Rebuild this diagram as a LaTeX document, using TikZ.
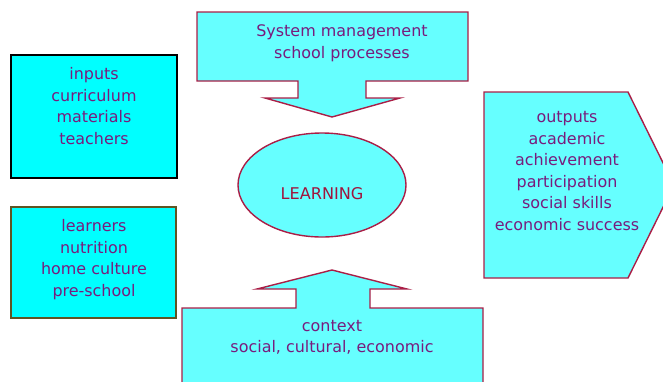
\documentclass[tikz,border=0pt]{standalone}
\usepackage{fontspec}
\setmainfont{DejaVu Sans}
\usetikzlibrary{shapes.geometric}
\definecolor{lcyan}{RGB}{102,255,255}
\definecolor{fcyan}{RGB}{0,255,255}
\definecolor{maroonb}{RGB}{170,30,70}
\definecolor{olivb}{RGB}{95,85,35}
\definecolor{txtpurple}{RGB}{120,28,125}
\definecolor{learnred}{RGB}{160,20,60}
\tikzset{
  shapeline/.style={draw=maroonb, line width=1.4bp, fill=lcyan, line join=miter},
  boxtext/.style={text=txtpurple, align=center, font=\fontsize{16}{21.7}\selectfont, inner sep=0pt},
}
\begin{document}
\begin{tikzpicture}[x=1bp,y=-1bp]
\useasboundingbox (0,0) rectangle (663,381);
\clip (0,0) rectangle (663,381);
% top callout
\draw[shapeline] (197,12) -- (468,12) -- (468,81) -- (366,81) -- (366,98) -- (400,98) -- (332,117) -- (265,98) -- (298,98) -- (298,81) -- (197,81) -- cycle;
\node[boxtext] (sys) at (342,43) {System management\\school processes};
% left boxes
\draw[draw=black, line width=1.4bp, fill=fcyan] (11,55) rectangle (177,178);
\node[boxtext] (inputs) at (94,106) {inputs\\curriculum\\materials\\teachers};
\draw[draw=olivb, line width=1.4bp, fill=fcyan] (11,207) rectangle (176,318);
\node[boxtext] (learners) at (94,259.5) {learners\\nutrition\\home culture\\pre-school};
% outputs
\draw[shapeline] (484,92) -- (628,92) -- (674,185) -- (628,278) -- (484,278) -- cycle;
\node[boxtext] (outputs) at (567,171) {outputs\\academic\\achievement\\participation\\social skills\\economic success};
% learning ellipse
\node[ellipse, shapeline, minimum width=168bp, minimum height=104bp, inner sep=0pt] (learn) at (322,185) {};
\node[text=learnred, font=\fontsize{16.2}{19}\selectfont, inner sep=0pt] (learntext) at (322,194) {LEARNING};
% bottom callout
\draw[shapeline] (182,308) -- (296,308) -- (296,289) -- (257,289) -- (332,270) -- (407,289) -- (370,289) -- (370,308) -- (483,308) -- (483,390) -- (182,390) -- cycle;
\node[boxtext] (context) at (332,337.5) {context\\social, cultural, economic};
\end{tikzpicture}
\end{document}
